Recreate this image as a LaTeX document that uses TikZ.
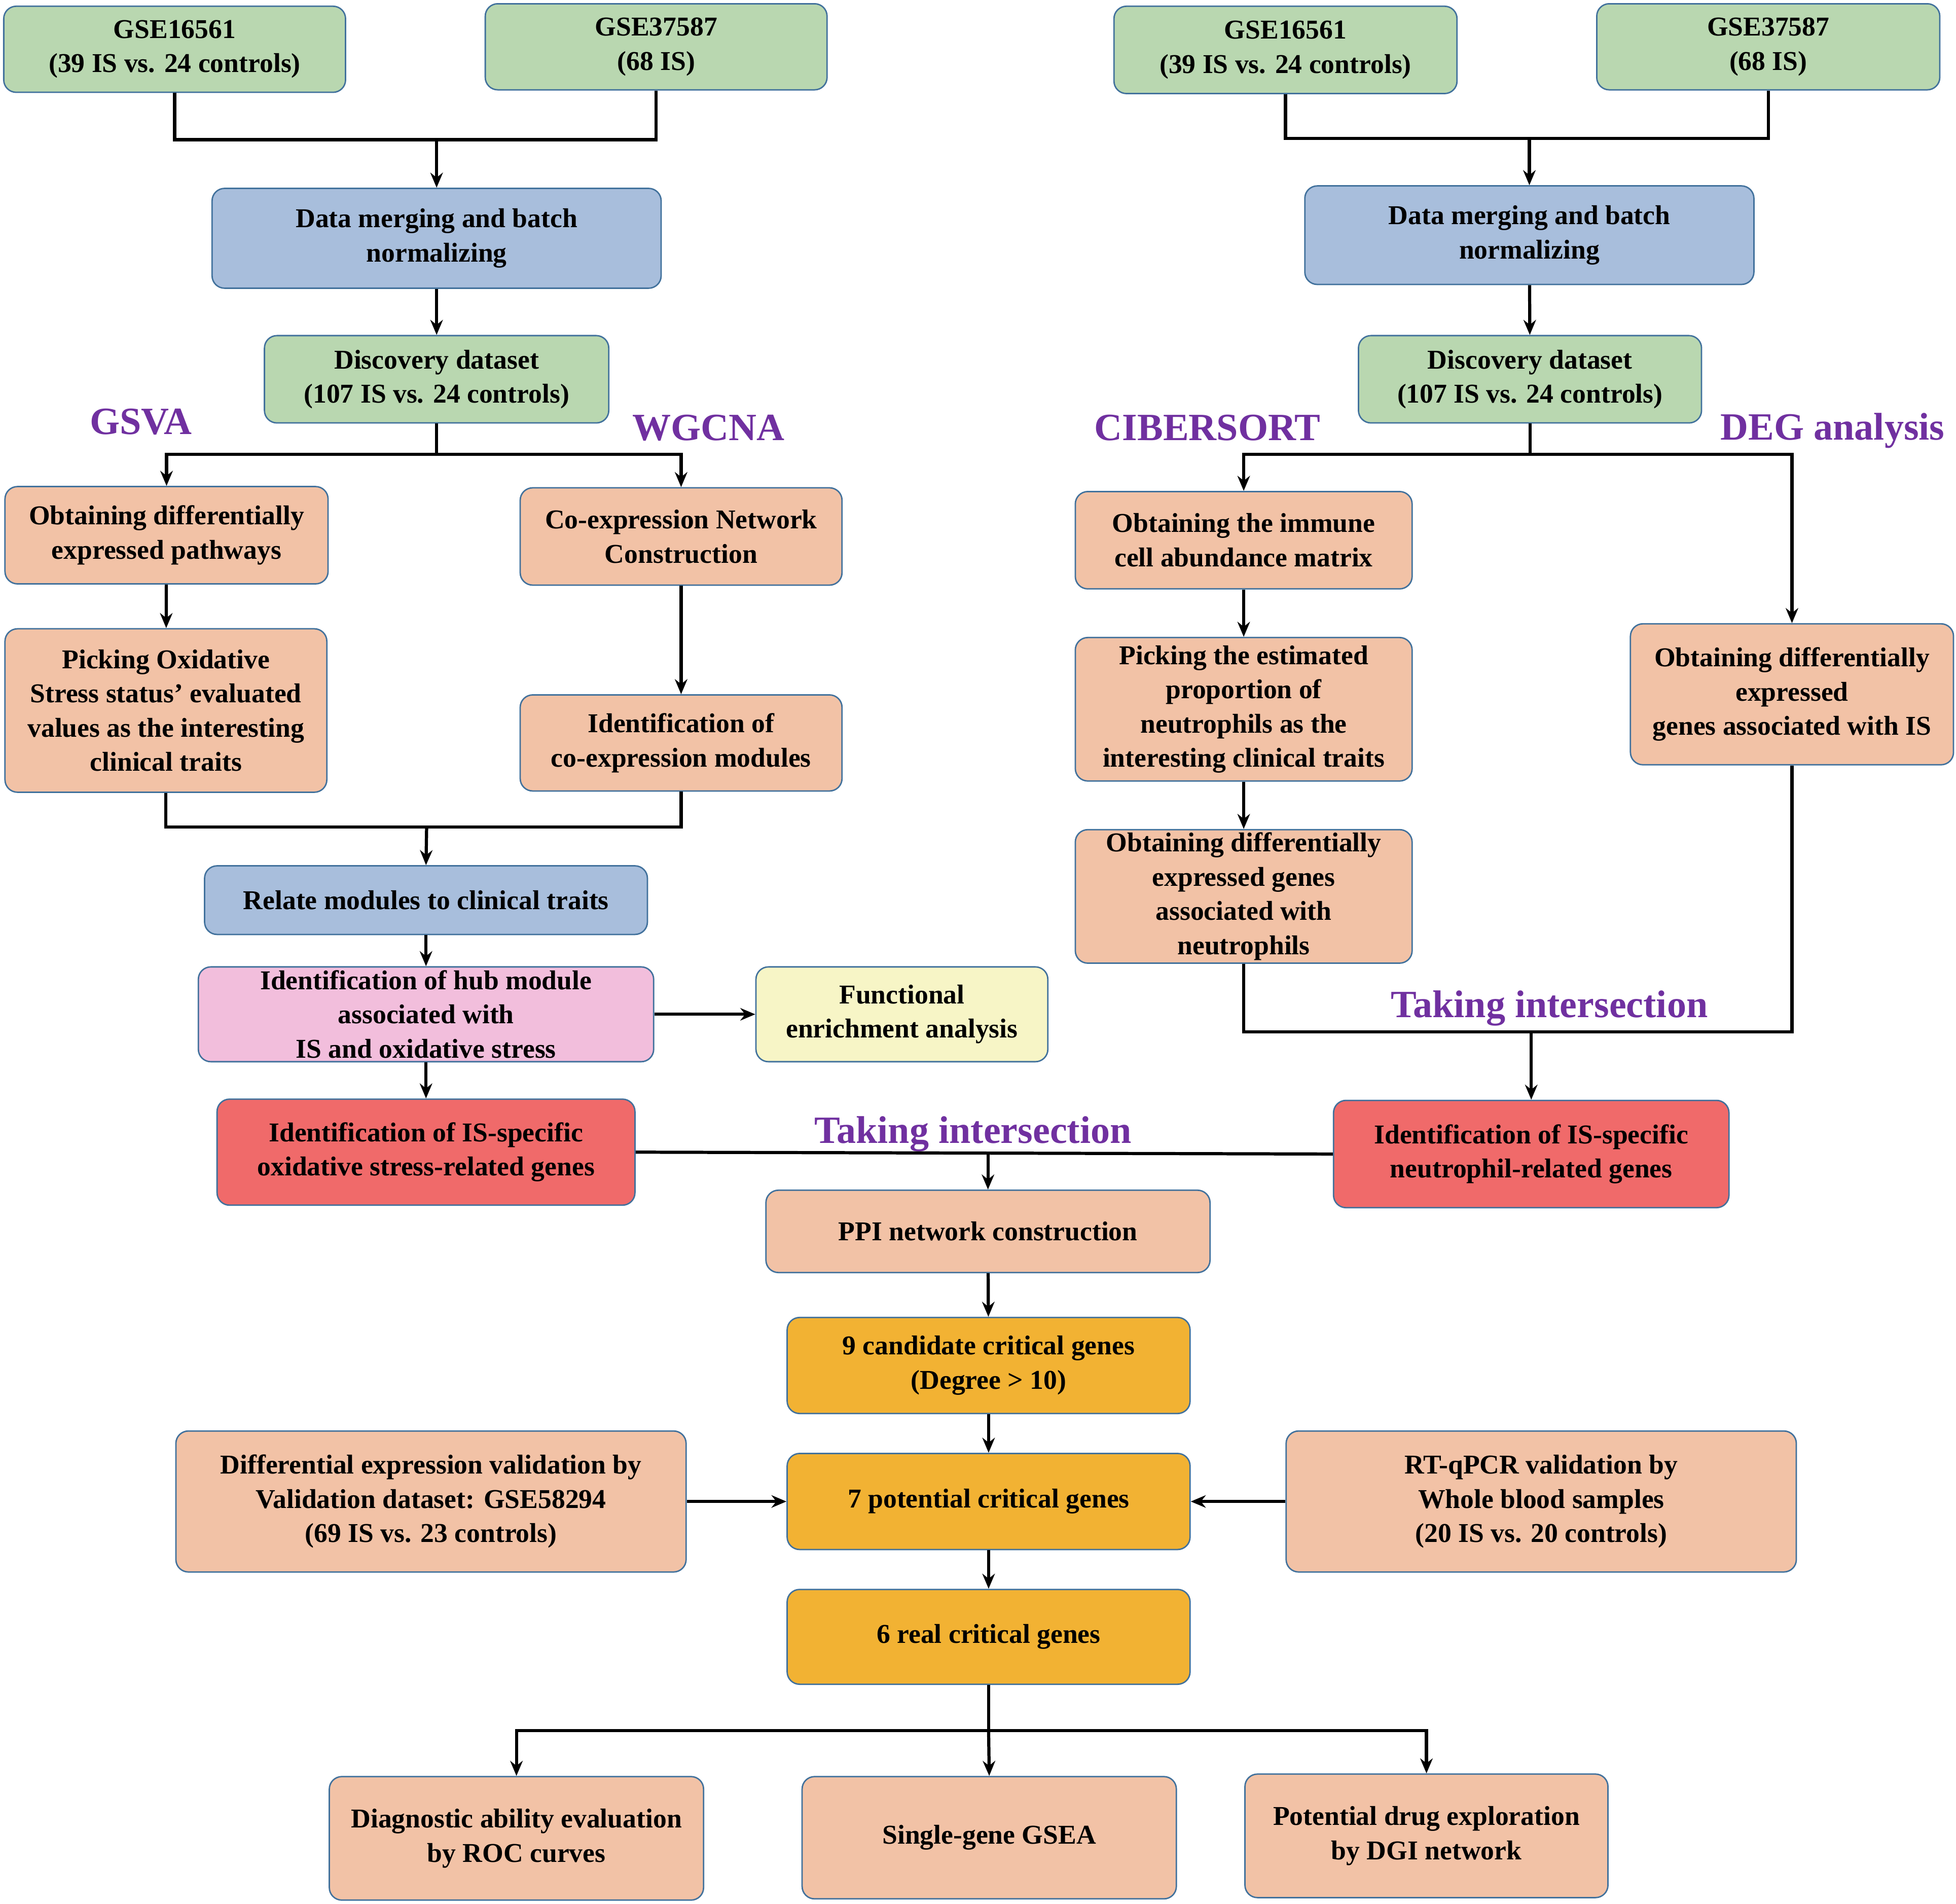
\documentclass[tikz,border=0pt]{standalone}
\usepackage{fontspec}
\setmainfont{Liberation Serif}
\usetikzlibrary{arrows.meta}
\definecolor{cgreen}{HTML}{B9D7B0}
\definecolor{cblue}{HTML}{A8BEDC}
\definecolor{csalmon}{HTML}{F2C2A6}
\definecolor{cpink}{HTML}{F2BEDC}
\definecolor{cyellow}{HTML}{F7F5C6}
\definecolor{cred}{HTML}{F06A6A}
\definecolor{corange}{HTML}{F2B233}
\definecolor{cborder}{HTML}{41719C}
\definecolor{cpurple}{HTML}{7030A0}
\begin{document}
\begin{tikzpicture}[x=0.025cm,y=-0.025cm,
 box/.style n args={3}{draw=cborder, line width=0.8pt, rounded corners=0.25cm, fill=#1,
   minimum width=#2*0.025cm, minimum height=#3*0.025cm, inner sep=0pt, align=center,
   font=\fontsize{15.5}{19.5}\selectfont\bfseries},
 lab/.style={text=cpurple, font=\fontsize{22}{26}\selectfont\bfseries},
 ln/.style={line width=1.8pt},
 ar/.style={line width=1.8pt, -{Stealth[length=0.3cm,width=0.25cm]}}]
\useasboundingbox (0,0) rectangle (1568,1526);
% left column
\node[box={cgreen}{274}{69}] (L1) at (140,39.5) {GSE16561\\(39 IS vs. 24 controls)};
\node[box={cgreen}{274}{69}] (L2) at (526,37.5) {GSE37587\\(68 IS)};
\node[box={cblue}{360}{80}] (L3) at (350,191) {Data merging and batch\\normalizing};
\node[box={cgreen}{276}{70}] (L4) at (350,304) {Discovery dataset\\(107 IS vs. 24 controls)};
\node[box={csalmon}{259}{78}] (L5) at (133.5,429) {Obtaining differentially\\expressed pathways};
\node[box={csalmon}{258}{78}] (L6) at (546,430) {Co-expression Network\\Construction};
\node[box={csalmon}{258}{131}] (L7) at (133,569.5) {Picking Oxidative\\Stress status' evaluated\\values as the interesting\\clinical traits};
\node[box={csalmon}{258}{77}] (L8) at (546,595.5) {Identification of\\co-expression modules};
\node[box={cblue}{355}{55}] (L9) at (341.5,721.5) {Relate modules to clinical traits};
\node[box={cpink}{365}{76}] (L10) at (341.5,813) {Identification of hub module\\associated with\\IS and oxidative stress};
\node[box={cyellow}{234}{76}] (L11) at (723,813) {Functional\\enrichment analysis};
\node[box={cred}{335}{85}] (L12) at (341.5,923.5) {Identification of IS-specific\\oxidative stress-related genes};
% right column
\node[box={cgreen}{275}{70}] (R1) at (1030.5,40) {GSE16561\\(39 IS vs. 24 controls)};
\node[box={cgreen}{275}{69}] (R2) at (1417.5,37.5) {GSE37587\\(68 IS)};
\node[box={cblue}{360}{79}] (R3) at (1226,188.5) {Data merging and batch\\normalizing};
\node[box={cgreen}{275}{70}] (R4) at (1226.5,304) {Discovery dataset\\(107 IS vs. 24 controls)};
\node[box={csalmon}{270}{78}] (R5) at (997,433) {Obtaining the immune\\cell abundance matrix};
\node[box={csalmon}{270}{115}] (R6) at (997,568.5) {Picking the estimated\\proportion of\\neutrophils as the\\interesting clinical traits};
\node[box={csalmon}{270}{107}] (R7) at (997,718.5) {Obtaining differentially\\expressed genes\\associated with\\neutrophils};
\node[box={csalmon}{259}{113}] (R8) at (1436.5,556.5) {Obtaining differentially\\expressed\\genes associated with IS};
\node[box={cred}{317}{86}] (R9) at (1227.5,925) {Identification of IS-specific\\neutrophil-related genes};
% center
\node[box={csalmon}{356}{66}] (C1) at (792,987) {PPI network construction};
\node[box={corange}{323}{77}] (C2) at (792.5,1094.5) {9 candidate critical genes\\(Degree > 10)};
\node[box={corange}{323}{77}] (C3) at (792.5,1203.5) {7 potential critical genes};
\node[box={csalmon}{409}{113}] (C4) at (345.5,1203.5) {Differential expression validation by\\Validation dataset: GSE58294\\(69 IS vs. 23 controls)};
\node[box={csalmon}{409}{113}] (C5) at (1235.5,1203.5) {RT-qPCR validation by\\Whole blood samples\\(20 IS vs. 20 controls)};
\node[box={corange}{323}{76}] (C6) at (792.5,1312) {6 real critical genes};
\node[box={csalmon}{300}{99}] (C7) at (414,1473.5) {Diagnostic ability evaluation\\by ROC curves};
\node[box={csalmon}{300}{98}] (C8) at (793,1473) {Single-gene GSEA};
\node[box={csalmon}{291}{99}] (C9) at (1143.5,1471.5) {Potential drug exploration\\by DGI network};
% labels
\node[lab] (t1) at (113,338) {GSVA};
\node[lab] (t2) at (568,343) {WGCNA};
\node[lab] (t3) at (968,343) {CIBERSORT};
\node[lab] (t4) at (1469,345) {DEG analysis};
\node[lab] (t5) at (1242,808) {Taking intersection};
\node[lab] (t6) at (780,909) {Taking intersection};
% coordinates
\coordinate (m1) at (350,112);
\coordinate (m2) at (350,364);
\coordinate (m3) at (342,663);
\coordinate (m4) at (1226,111);
\coordinate (m5) at (1226.5,364);
\coordinate (m6) at (1227.5,827);
\coordinate (m7) at (792,923.5);
\coordinate (m8) at (792.5,1387);
% left connectors
\draw[ln] (L1.south) |- (m1) -| (L2.south);
\draw[ar] (m1) -- (L3.north);
\draw[ar] (L3) -- (L4);
\draw[ln] (L4.south) -- (m2);
\draw[ar] (m2) -| (L5.north);
\draw[ar] (m2) -| (L6.north);
\draw[ar] (L5) -- (L7);
\draw[ar] (L6) -- (L8);
\draw[ln] (L7.south) |- (m3) -| (L8.south);
\draw[ar] (m3) -- (L9.north);
\draw[ar] (L9) -- (L10);
\draw[ar] (L10) -- (L11);
\draw[ar] (L10) -- (L12);
% right connectors
\draw[ln] (R1.south) |- (m4) -| (R2.south);
\draw[ar] (m4) -- (R3.north);
\draw[ar] (R3) -- (R4);
\draw[ln] (R4.south) -- (m5);
\draw[ar] (m5) -| (R5.north);
\draw[ar] (m5) -| (R8.north);
\draw[ar] (R5) -- (R6);
\draw[ar] (R6) -- (R7);
\draw[ln] (R7.south) |- (m6) -| (R8.south);
\draw[ar] (m6) -- (R9.north);
% center connectors
\draw[ln] (L12.east) -- (R9.west);
\draw[ar] (m7) -- (C1.north);
\draw[ar] (C1) -- (C2);
\draw[ar] (C2) -- (C3);
\draw[ar] (C4) -- (C3);
\draw[ar] (C5) -- (C3);
\draw[ar] (C3) -- (C6);
\draw[ln] (C6.south) -- (m8);
\draw[ar] (m8) -| (C7.north);
\draw[ar] (m8) -- (C8.north);
\draw[ar] (m8) -| (C9.north);
\end{tikzpicture}
\end{document}
